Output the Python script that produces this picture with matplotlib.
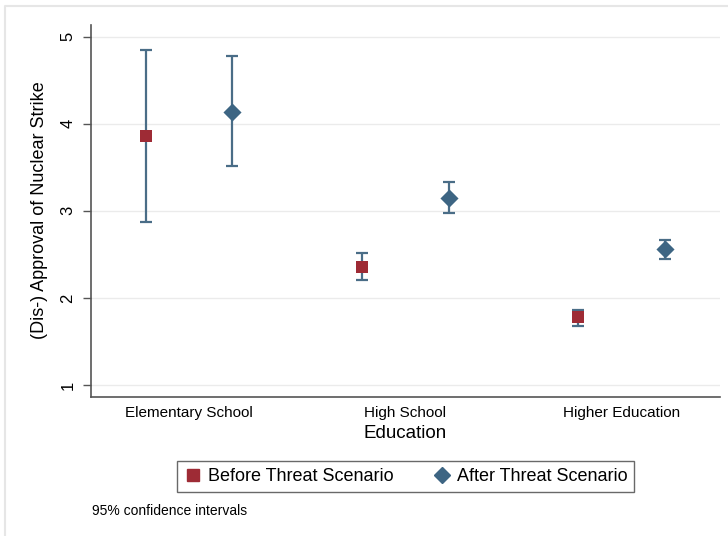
import numpy as np
import matplotlib
matplotlib.use("Agg")
import matplotlib.pyplot as plt
from matplotlib.lines import Line2D

plt.rcParams['font.family'] = ['Liberation Sans', 'DejaVu Sans']

# data
categories = ["Elementary School", "High School", "Higher Education"]
before_mean = [3.86, 2.36, 1.78]
before_lo = [2.87, 2.21, 1.68]
before_hi = [4.85, 2.52, 1.86]
after_mean = [4.14, 3.15, 2.56]
after_lo = [3.51, 2.98, 2.45]
after_hi = [4.78, 3.33, 2.67]

red = "#9e2b35"
blue = "#3d6583"
bar_col = "#4a6d87"

W, H = 728, 536
fig = plt.figure(figsize=(W / 100, H / 100), dpi=100)
fig.patch.set_facecolor("white")
# faint frame on the top and left edges only
fig.lines.append(Line2D([5 / W, 5 / W, 1], [0, 1 - 6 / H, 1 - 6 / H], transform=fig.transFigure,
                        color="#e6e6e6", linewidth=1.5))

ax = fig.add_axes([90.7 / W, 1 - 396.7 / H, (720 - 90.7) / W, (396.7 - 25) / H])

x = np.arange(1, len(categories) + 1)
off = 0.2

xb = x - off
xa = x + off
ax.errorbar(xb, before_mean,
            yerr=[np.array(before_mean) - np.array(before_lo), np.array(before_hi) - np.array(before_mean)],
            fmt="none", ecolor=bar_col, elinewidth=1.6, capsize=4.5, capthick=1.6, zorder=2)
ax.errorbar(xa, after_mean,
            yerr=[np.array(after_mean) - np.array(after_lo), np.array(after_hi) - np.array(after_mean)],
            fmt="none", ecolor=bar_col, elinewidth=1.6, capsize=4.5, capthick=1.6, zorder=2)
ax.scatter(xb, before_mean, marker="s", s=75, color=red, zorder=3, linewidths=0)
ax.scatter(xa, after_mean, marker="D", s=85, color=blue, zorder=3, linewidths=0)

ax.set_xlim(0.546, 3.454)
ax.set_ylim(0.866, 5.134)
ax.set_yticks([1, 2, 3, 4, 5])
ax.set_yticklabels(["1", "2", "3", "4", "5"], rotation=90, va="center")
ax.set_xticks(x)
ax.set_xticklabels(categories, fontsize=11)
ax.tick_params(axis="x", length=0, pad=7)
ax.tick_params(axis="y", length=6, width=1, color="#555555", labelsize=12, pad=5)
ax.grid(axis="y", color="#ebebeb", linewidth=1)
ax.set_axisbelow(True)
for s in ["top", "right"]:
    ax.spines[s].set_visible(False)
for s in ["left", "bottom"]:
    ax.spines[s].set_color("#555555")
    ax.spines[s].set_linewidth(1.2)

fig.text(40 / W, 1 - 210 / H, "(Dis-) Approval of Nuclear Strike", rotation=90,
         ha="center", va="center", fontsize=13)
fig.text(405 / W, 1 - 433 / H, "Education", ha="center", va="center", fontsize=13.5)

handles = [Line2D([], [], marker="s", linestyle="none", color=red, markersize=9),
           Line2D([], [], marker="D", linestyle="none", color=blue, markersize=8.5)]
leg = fig.legend(handles, ["Before Threat Scenario", "After Threat Scenario"],
                 loc="center", bbox_to_anchor=(405.8 / W, 1 - 476.7 / H), ncol=2,
                 fontsize=13, frameon=True, fancybox=False, handletextpad=0.3,
                 columnspacing=2.2, handlelength=1.0, borderpad=0.4)
leg.get_frame().set_edgecolor("#444444")
leg.get_frame().set_linewidth(1.0)

fig.text(92 / W, 1 - 511 / H, "95% confidence intervals", ha="left", va="center", fontsize=10)

fig.savefig("out.png", dpi=100)
